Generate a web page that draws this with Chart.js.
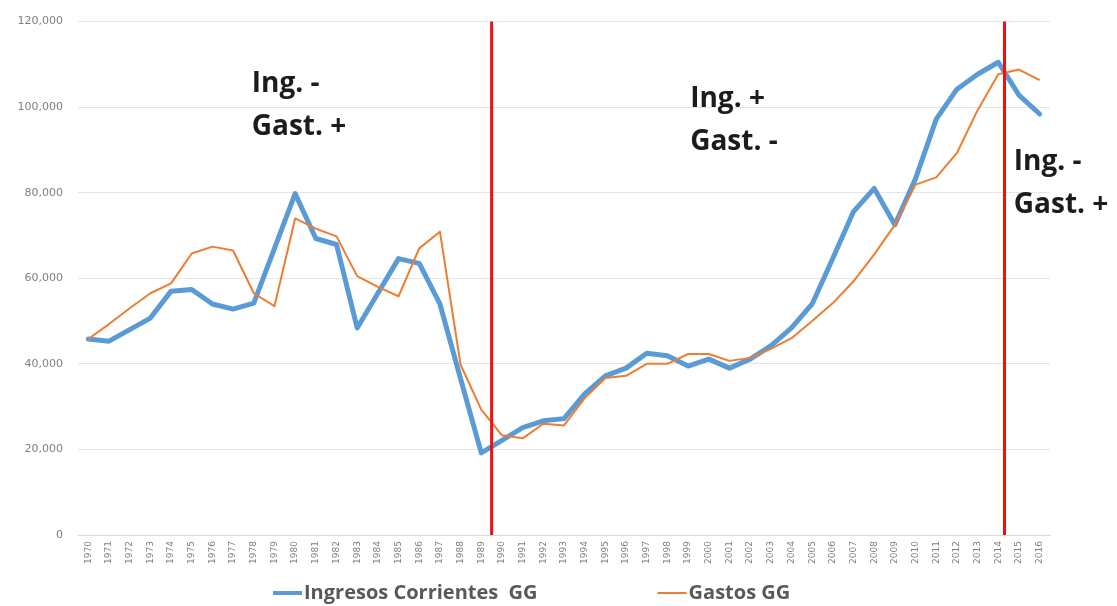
<!DOCTYPE html>
<html><head><meta charset="utf-8">
<script src="https://cdn.jsdelivr.net/npm/chart.js@4.4.1/dist/chart.umd.min.js"></script>
<style>html,body{margin:0;padding:0;background:#fff;}#wrap{width:1117px;height:606px;position:relative;}</style>
</head><body><div id="wrap"><canvas id="c" width="1117" height="606"></canvas></div>
<script>
const years = ['1970','1971','1972','1973','1974','1975','1976','1977','1978','1979','1980','1981','1982','1983','1984','1985','1986','1987','1988','1989','1990','1991','1992','1993','1994','1995','1996','1997','1998','1999','2000','2001','2002','2003','2004','2005','2006','2007','2008','2009','2010','2011','2012','2013','2014','2015','2016'];
const ingresos = [45800,45300,48000,50700,57000,57400,54000,52800,54200,67000,79800,69300,67900,48400,56500,64600,63500,54000,36500,19200,22100,25100,26700,27200,33000,37200,39000,42500,41900,39500,41100,39000,41100,44200,48400,54000,64700,75600,81000,72500,83300,97200,104200,107700,110500,102800,98400];
const gastos = [45800,49300,53000,56500,58800,65800,67400,66500,56500,53500,74000,71600,69800,60500,58000,55800,67000,70900,39800,29300,23300,22600,26000,25600,32000,36700,37200,40000,40000,42300,42300,40700,41400,43500,46000,50000,54200,59300,65600,72500,81900,83600,89300,99300,107700,108800,106300];
const seriesNames = ['Ingresos Corrientes  GG','Gastos GG'];
const yTicks = [0,20000,40000,60000,80000,100000,120000];
const dividerYears = [1989.5, 2014.3];
const regionTexts = [['Ing. -','Gast. +'],['Ing. +','Gast. -'],['Ing. -','Gast. +']];
const regionAnchors = [[1977.9,107200],[1999.1,103800],[2014.75,89000]];

function yearToPx(xs, yr){ return xs.getPixelForValue(yr - Number(years[0])); }

const overlay = {
  id:'overlay',
  afterDatasetsDraw(chart){
    const ctx = chart.ctx, xs = chart.scales.x, ys = chart.scales.y;
    ctx.save();
    ctx.strokeStyle = '#f01010'; ctx.lineWidth = 3;
    dividerYears.forEach(d=>{
      const px = yearToPx(xs,d);
      ctx.beginPath(); ctx.moveTo(px, ys.getPixelForValue(yTicks[yTicks.length-1])); ctx.lineTo(px, ys.getPixelForValue(0)); ctx.stroke();
    });
    ctx.fillStyle = '#1c1c1c';
    ctx.font = 'bold 28px "Open Sans"';
    ctx.textBaseline = 'top'; ctx.textAlign='left';
    regionTexts.forEach((lines,i)=>{
      const px = yearToPx(xs, regionAnchors[i][0]);
      const py = ys.getPixelForValue(regionAnchors[i][1]);
      lines.forEach((t,j)=> ctx.fillText(t, px, py + j*43 - 6));
    });
    ctx.restore();
  },
  afterDraw(chart){
    const ctx = chart.ctx;
    ctx.save();
    ctx.font = 'bold 20px "Open Sans"';
    ctx.textBaseline='middle'; ctx.textAlign='left';
    const y = 593;
    let x = 273;
    chart.data.datasets.forEach((ds,i)=>{
      ctx.strokeStyle = ds.borderColor; ctx.lineWidth = i===0?4:2;
      ctx.beginPath(); ctx.moveTo(x,y); ctx.lineTo(x+29,y); ctx.stroke();
      x += 31;
      ctx.fillStyle = '#595959';
      ctx.fillText(ds.label, x, y);
      x += ctx.measureText(ds.label).width + 120;
    });
    ctx.restore();
  }
};

new Chart(document.getElementById('c'), {
  type:'line',
  data:{ labels: years, datasets:[
    {label:seriesNames[0], data: ingresos, borderColor:'#5b9bd5', backgroundColor:'#5b9bd5', borderWidth:5, pointRadius:0, tension:0, order:1, borderJoinStyle:'round', borderCapStyle:'round'},
    {label:seriesNames[1], data: gastos, borderColor:'#ed7d31', backgroundColor:'#ed7d31', borderWidth:2, pointRadius:0, tension:0, order:0, borderJoinStyle:'round'}
  ]},
  options:{
    responsive:false, animation:false, devicePixelRatio:1,
    layout:{padding:{top:19,right:67,left:0,bottom:0}},
    plugins:{legend:{display:false}, tooltip:{enabled:false}, title:{display:false}},
    scales:{
      x:{ offset:true, grid:{display:false, drawTicks:false}, border:{color:'#d9d9d9', width:1},
          ticks:{ maxRotation:90, minRotation:90, autoSkip:false, padding:6, color:'#7f7f7f', font:{family:'DejaVu Sans', size:9}},
          afterFit(s){ s.height = 71; } },
      y:{ min:0, max:120000, grid:{color:'#e6e6e6', drawTicks:false}, border:{display:false},
          afterBuildTicks(s){ s.ticks = yTicks.map(v=>({value:v})); },
          ticks:{ padding:15, color:'#7f7f7f', font:{family:'DejaVu Sans', size:11}, callback:v=>v.toLocaleString('en-US')},
          afterFit(s){ s.width = 78; } }
    }
  },
  plugins:[overlay]
});
</script></body></html>
